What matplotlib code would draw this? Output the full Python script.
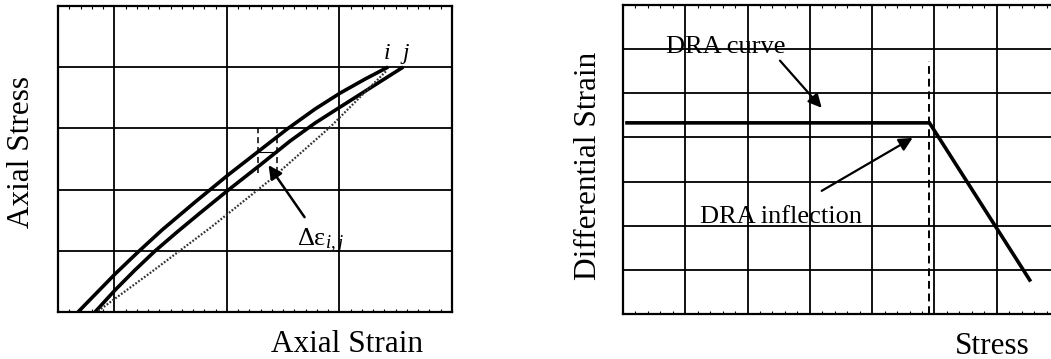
import numpy as np
import matplotlib
matplotlib.use("Agg")
from matplotlib import pyplot as plt
from matplotlib.ticker import MultipleLocator, NullFormatter

plt.rcParams['font.family'] = ['Liberation Serif', 'DejaVu Serif']
plt.rcParams['mathtext.fontset'] = 'custom'
plt.rcParams['mathtext.rm'] = 'Liberation Serif'
plt.rcParams['mathtext.it'] = 'Liberation Serif:italic'

# left panel: loading curves (i, j) and the dotted chord
curve_i_x = [0.178, 0.507, 0.711, 0.924, 1.218, 1.511, 1.796, 2.036, 2.284, 2.507, 2.729, 2.933]
curve_i_y = [0.0, 0.621, 0.980, 1.340, 1.797, 2.239, 2.647, 2.990, 3.317, 3.578, 3.807, 4.003]
curve_j_x = [0.329, 0.507, 0.684, 0.862, 1.058, 1.262, 1.502, 1.796, 2.062, 2.284, 2.507, 2.773, 3.067]
curve_j_y = [0.0, 0.359, 0.686, 0.997, 1.307, 1.618, 1.977, 2.402, 2.794, 3.088, 3.350, 3.660, 4.003]
chord_x = [0.356, 0.818, 1.351, 1.884, 2.418, 2.684, 2.916]
chord_y = [0.016, 0.637, 1.373, 2.157, 3.023, 3.513, 3.938]
box_x = [1.778, 1.947]
box_y = [2.271, 3.007]
gap_y = 2.614

# right panel: DRA curve
dra_x = [0.064, 4.92, 6.53]
dra_y = [4.33, 4.33, 0.77]
inflection_x = 4.92
inflection_top = 5.74

fig = plt.figure(figsize=(10.51, 3.59), dpi=100)

# ---- left panel
ax1 = fig.add_axes([58 / 1051, 1 - 312 / 359, 394 / 1051, 306 / 359])
ax1.set_xlim(0, 3.5)
ax1.set_ylim(0, 5)
ax1.plot(curve_i_x, curve_i_y, color='black', lw=2.6, solid_capstyle='butt',
         solid_joinstyle='round')
ax1.plot(curve_j_x, curve_j_y, color='black', lw=2.6, solid_capstyle='butt',
         solid_joinstyle='round')
ax1.plot(chord_x, chord_y, color='#333333', lw=1.6, linestyle=(0, (0.8, 0.8)))
for bx in box_x:
    ax1.plot([bx, bx], box_y, color='black', lw=1.1, linestyle=(0, (4, 2.5)))
ax1.plot(box_x, [gap_y, gap_y], color='black', lw=0.8)
ax1.annotate('', xy=(1.87, 2.40), xytext=(2.19, 1.55),
             arrowprops=dict(arrowstyle='-|>', color='black', lw=1.8,
                             mutation_scale=20, shrinkA=0, shrinkB=0))
ax1.text(2.12, 1.16, r'Δε$_{i,j}$', fontsize=19, va='center', ha='left')
ax1.text(2.92, 4.22, 'i', fontsize=17, style='italic', ha='center', va='center')
ax1.text(3.09, 4.22, 'j', fontsize=17, style='italic', ha='center', va='center')

ax1.set_xticks([0.5, 1.5, 2.5])
ax1.set_yticks([1, 2, 3, 4])
ax1.xaxis.set_minor_locator(MultipleLocator(0.1))
ax1.grid(True, which='major', color='black', lw=1.3)

# ---- right panel
ax2 = fig.add_axes([623 / 1051, 1 - 314 / 359, 436 / 1051, 309 / 359])
ax2.set_xlim(0, 7)
ax2.set_ylim(0, 7)
ax2.plot(dra_x, dra_y, color='black', lw=2.6, solid_joinstyle='miter')
ax2.plot([inflection_x, inflection_x], [0, inflection_top], color='black',
         lw=1.4, linestyle=(0, (4, 2.5)))
ax2.text(0.69, 6.05, 'DRA curve', fontsize=19, va='center', ha='left')
ax2.text(1.24, 2.20, 'DRA inflection', fontsize=19, va='center', ha='left')
ax2.annotate('', xy=(3.19, 4.67), xytext=(2.52, 5.74),
             arrowprops=dict(arrowstyle='-|>', color='black', lw=1.6,
                             mutation_scale=20, shrinkA=0, shrinkB=0))
ax2.annotate('', xy=(4.65, 3.99), xytext=(3.19, 2.79),
             arrowprops=dict(arrowstyle='-|>', color='black', lw=1.6,
                             mutation_scale=20, shrinkA=0, shrinkB=0))
ax2.set_xticks(range(1, 7))
ax2.set_yticks(range(1, 7))
ax2.xaxis.set_minor_locator(MultipleLocator(0.2))
ax2.grid(True, which='major', color='black', lw=1.3)

for ax in (ax1, ax2):
    for s in ax.spines.values():
        s.set_linewidth(1.6)
    ax.set_axisbelow(True)
    ax.xaxis.set_major_formatter(NullFormatter())
    ax.yaxis.set_major_formatter(NullFormatter())
    ax.tick_params(which='major', length=0)
    ax.tick_params(axis='x', which='minor', direction='in', top=True,
                   bottom=True, length=2.5, width=0.8)

fig.text(22 / 1051, 1 - 152 / 359, 'Axial Stress', rotation=90, fontsize=22.5,
         ha='center', va='center')
fig.text(347 / 1051, 1 - 344 / 359, 'Axial Strain', fontsize=22.5,
         ha='center', va='center')
fig.text(588 / 1051, 1 - 166 / 359, 'Differential Strain', rotation=90,
         fontsize=22.5, ha='center', va='center')
fig.text(992 / 1051, 1 - 346 / 359, 'Stress', fontsize=22.5,
         ha='center', va='center')

fig.savefig('out.png', dpi=100)
